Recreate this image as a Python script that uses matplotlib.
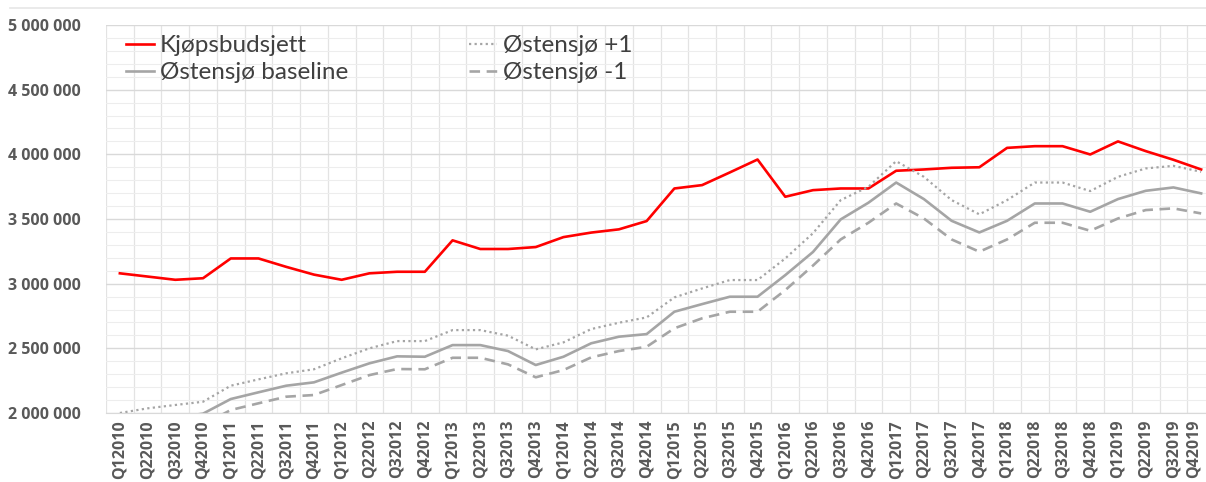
import numpy as np
import matplotlib
matplotlib.use("Agg")
import matplotlib.pyplot as plt
from matplotlib.ticker import MultipleLocator, FuncFormatter

plt.rcParams["font.family"] = ["Lato", "DejaVu Sans"]

quarters = [f"Q{q}{y}" for y in range(2010, 2020) for q in range(1, 5)]

kjopsbudsjett = [3080000, 3055000, 3030000, 3042000, 3195000, 3195000, 3130000, 3070000,
                 3030000, 3080000, 3092000, 3092000, 3335000, 3268000, 3268000, 3283000,
                 3360000, 3395000, 3420000, 3484000, 3736000, 3762000, 3860000, 3960000,
                 3672000, 3723000, 3736000, 3736000, 3873000, 3883000, 3896000, 3900000,
                 4050000, 4063000, 4063000, 3999000, 4100000, 4025000, 3958000, 3883000]
baseline = [1905000, 1940000, 1965000, 1995000, 2108000, 2160000, 2211000, 2237000,
            2312000, 2384000, 2438000, 2435000, 2525000, 2525000, 2479000, 2371000,
            2435000, 2539000, 2590000, 2610000, 2783000, 2842000, 2899000, 2899000,
            3066000, 3245000, 3497000, 3626000, 3782000, 3654000, 3486000, 3396000,
            3486000, 3620000, 3620000, 3556000, 3654000, 3718000, 3744000, 3698000]
pluss1 = [2000000, 2036000, 2062000, 2087000, 2211000, 2260000, 2307000, 2338000,
          2423000, 2500000, 2556000, 2556000, 2641000, 2641000, 2598000, 2492000,
          2546000, 2649000, 2698000, 2739000, 2894000, 2963000, 3028000, 3028000,
          3195000, 3390000, 3646000, 3749000, 3947000, 3826000, 3646000, 3536000,
          3646000, 3782000, 3782000, 3716000, 3826000, 3891000, 3911000, 3865000]
minus1 = [1820000, 1855000, 1880000, 1910000, 2023000, 2075000, 2126000, 2139000,
          2216000, 2293000, 2340000, 2338000, 2427000, 2427000, 2376000, 2276000,
          2332000, 2430000, 2479000, 2512000, 2655000, 2732000, 2783000, 2783000,
          2950000, 3140000, 3342000, 3471000, 3620000, 3504000, 3342000, 3247000,
          3342000, 3471000, 3471000, 3409000, 3504000, 3569000, 3582000, 3543000]

x = np.arange(len(quarters))
grey = "#A5A5A5"

fig = plt.figure(figsize=(12.06, 4.82), dpi=100)
ax = fig.add_axes([106 / 1206, 69 / 482, 1109 / 1206, 388 / 482])

ax.plot(x, kjopsbudsjett, color="#FF0000", lw=1.9, label="Kjøpsbudsjett")
ax.plot(x, baseline, color=grey, lw=1.9, label="Østensjø baseline")
ax.plot(x, pluss1, color=grey, lw=1.6, ls=(0, (1, 1.5)), label="Østensjø +1")
ax.plot(x, minus1, color=grey, lw=1.9, ls=(0, (4, 2.5)), label="Østensjø -1")

ax.set_xlim(-0.5, len(quarters) - 0.5)
ax.set_ylim(2000000, 5000000)
ax.yaxis.set_major_locator(MultipleLocator(500000))
ax.yaxis.set_minor_locator(MultipleLocator(100000))
ax.yaxis.set_major_formatter(FuncFormatter(lambda v, p: f"{v:,.0f}".replace(",", " ")))
ax.set_xticks(x)
ax.set_xticklabels(quarters, rotation=90)
ax.set_xticks(np.arange(-0.5, len(quarters), 1), minor=True)

ax.grid(which="major", axis="y", color="#D9D9D9", lw=1)
ax.grid(which="minor", axis="y", color="#EDEDED", lw=0.8)
ax.grid(which="minor", axis="x", color="#E3E3E3", lw=0.9)
ax.set_axisbelow(True)
for s in ["top", "right", "left"]:
    ax.spines[s].set_visible(False)
ax.spines["bottom"].set_color("#D9D9D9")

ax.tick_params(which="both", length=0)
ax.tick_params(axis="y", pad=18, labelsize=11.5, labelcolor="#595959")
ax.tick_params(axis="x", pad=5, labelsize=11.5, labelcolor="#595959")
for lbl in ax.get_xticklabels() + ax.get_yticklabels():
    lbl.set_fontfamily(["Open Sans", "DejaVu Sans"])
    lbl.set_fontweight("bold")
# last label sits at the right edge of the picture, keep it inside
ax.get_xticklabels()[-1].set_horizontalalignment("right")

ax.legend(loc="upper left", bbox_to_anchor=(-0.002, 1.03), ncol=2, frameon=False,
          fontsize=17.5, handlelength=1.15, handletextpad=0.25, columnspacing=5.0,
          labelspacing=0.25, labelcolor="#404040")

fig.add_artist(plt.Line2D([10 / 1206, 1], [1 - 8 / 482] * 2, color="#E6E6E6", lw=1.2))

fig.savefig("out.png", dpi=100)
